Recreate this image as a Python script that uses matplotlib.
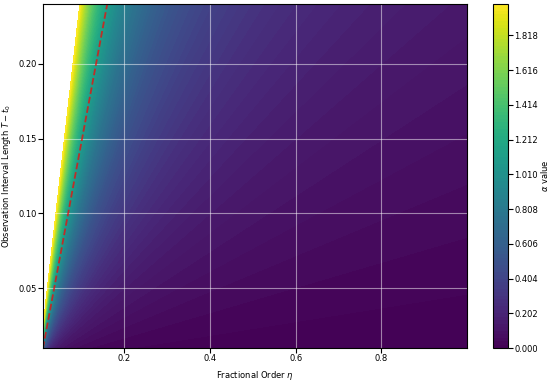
import numpy as np
import matplotlib
matplotlib.use("Agg")
import matplotlib.pyplot as plt

# Grid axes
eta_min, eta_max, n_eta = 0.01, 1.0, 300
T_min, T_max, n_T = 0.01, 0.24, 300

# Model of the alpha surface: alpha = alpha_ref * (ratio_ref * T / eta) ** power
alpha_ref = 2.0
ratio_ref = 0.40
power = 1.15

# Critical (dashed) line endpoints
crit_eta = [0.01, 0.16]
crit_T = [0.01, 0.24]

# Colour levels
level_min, level_max, n_levels = 0.0, 2.0, 100

eta = np.linspace(eta_min, eta_max, n_eta)
T = np.linspace(T_min, T_max, n_T)
E, TT = np.meshgrid(eta, T)
A = alpha_ref * (ratio_ref * TT / E) ** power

fs = 6
fig = plt.figure(figsize=(5.5, 3.81), dpi=100)
ax = fig.add_axes([43 / 550, 33 / 381, 424 / 550, 344 / 381])
cax = fig.add_axes([493 / 550, 33 / 381, 15 / 550, 344 / 381])

levels = np.linspace(level_min, level_max, n_levels)
cs = ax.contourf(E, TT, A, levels=levels, cmap="viridis")
ax.plot(crit_eta, crit_T, "r--", linewidth=1.3, alpha=0.7)
ax.set_xlim(eta_min, eta_max)
ax.set_ylim(T_min, T_max)
ax.set_xticks([0.2, 0.4, 0.6, 0.8])
ax.set_yticks([0.05, 0.10, 0.15, 0.20])
ax.grid(True, color="white", alpha=0.5, linewidth=0.8)
ax.tick_params(labelsize=fs, pad=1.0)
ax.set_xlabel(r"Fractional Order $\eta$", fontsize=fs, labelpad=4.5)
ax.set_ylabel(r"Observation Interval Length $T - t_0$", fontsize=fs, labelpad=4)

cb = fig.colorbar(cs, cax=cax)
cb.set_label(r"$\alpha$ value", fontsize=fs, labelpad=0.5)
cb.ax.tick_params(labelsize=fs, pad=1.0)

fig.savefig("out.png", dpi=100)
